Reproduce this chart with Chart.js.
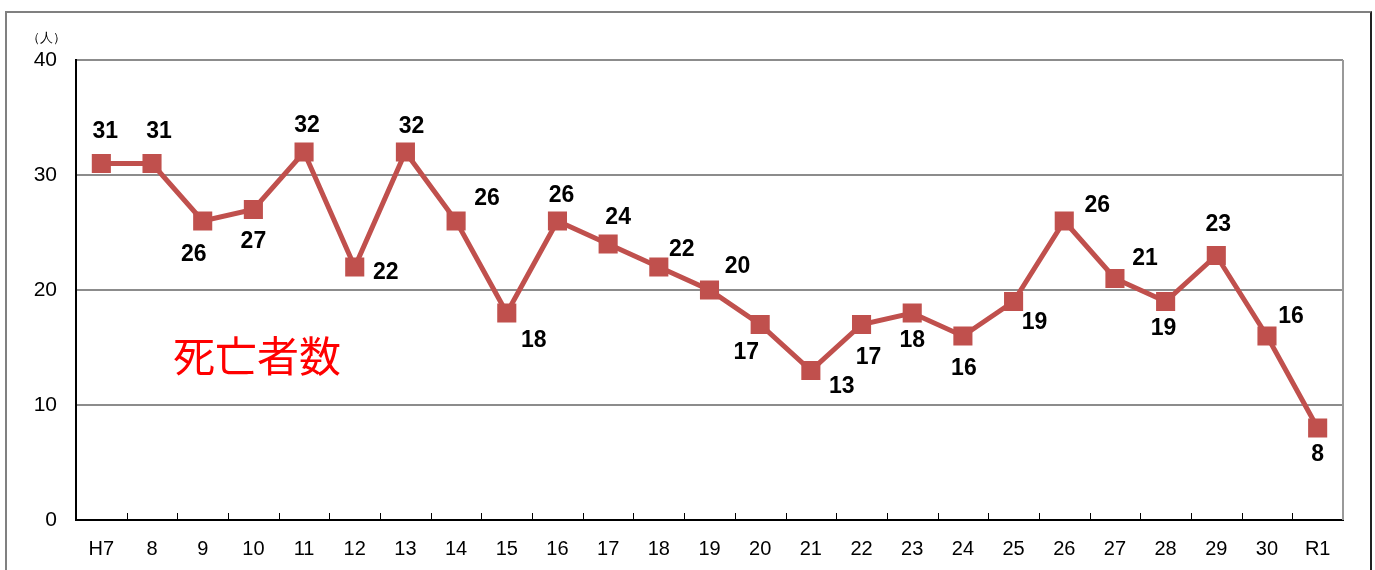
<!DOCTYPE html>
<html>
<head>
<meta charset="utf-8">
<script src="https://cdn.jsdelivr.net/npm/chart.js@4.4.0/dist/chart.umd.min.js"></script>
<style>
  html, body { margin: 0; padding: 0; background: #fff; }
  #wrap { position: relative; width: 1375px; height: 570px; overflow: hidden; }
  #frame {
    position: absolute; left: 5px; top: 11px; width: 1363px; height: 600px;
    border-left: 2px solid #808080; border-top: 2px solid #808080; border-right: 2px solid #222;
  }
  canvas { position: absolute; left: 0; top: 0; }
</style>
</head>
<body>
<div id="wrap">
  <div id="frame"></div>
  <canvas id="chart" width="1375" height="570"></canvas>
</div>
<script>
const years = ["H7", "8", "9", "10", "11", "12", "13", "14", "15", "16", "17", "18", "19",
  "20", "21", "22", "23", "24", "25", "26", "27", "28", "29", "30", "R1"];
const deaths = [31, 31, 26, 27, 32, 22, 32, 26, 18, 26, 24, 22, 20, 17, 13, 17, 18, 16, 19, 26, 21, 19, 23, 16, 8];
const yTicks = [0, 10, 20, 30, 40];
const unitLabel = "（人）";
const seriesLabel = "死亡者数";

// where each value label sits relative to its marker (px)
const labelOffsets = [
  [4, -32], [7, -32], [-9, 34], [0, 32], [3, -26], [31, 6], [6, -25], [31, -22],
  [27, 28], [4, -25], [10, -26], [23, -17], [28, -23], [-14, 28], [31, 16], [7, 33],
  [0, 28], [1, 33], [21, 21], [33, -15], [30, -20], [-2, 27], [2, -31], [24, -19], [0, 27]
];

const FONT = "'Liberation Sans', Arial, sans-serif";
const RED = "#c0504d";

const extras = {
  id: "extras",
  afterDraw(c) {
    const ctx = c.ctx;
    const ca = c.chartArea;
    const xs = c.scales.x;
    ctx.save();
    // right border of plot
    ctx.strokeStyle = "#999";
    ctx.lineWidth = 2;
    ctx.beginPath();
    ctx.moveTo(ca.right, ca.top);
    ctx.lineTo(ca.right, ca.bottom);
    ctx.stroke();
    // inward tick marks between categories
    ctx.strokeStyle = "#000";
    ctx.lineWidth = 1;
    ctx.beginPath();
    for (let i = 0; i < years.length - 1; i++) {
      const x = Math.round((xs.getPixelForValue(i) + xs.getPixelForValue(i + 1)) / 2) + 0.5;
      ctx.moveTo(x, ca.bottom);
      ctx.lineTo(x, ca.bottom - 7);
    }
    ctx.stroke();
    // value labels
    const meta = c.getDatasetMeta(0);
    ctx.fillStyle = "#000";
    ctx.font = "bold 23px " + FONT;
    ctx.textAlign = "center";
    ctx.textBaseline = "middle";
    meta.data.forEach((pt, i) => {
      const [dx, dy] = labelOffsets[i];
      ctx.fillText(String(deaths[i]), pt.x + dx, pt.y + dy);
    });
    // unit
    ctx.font = "13px " + FONT;
    ctx.fillText(unitLabel, 46, 38);
    // series name
    ctx.fillStyle = "#ff0000";
    ctx.font = "42px 'Noto Sans CJK JP', sans-serif";
    ctx.textAlign = "left";
    ctx.fillText(seriesLabel, ca.left + 97, 356);
    ctx.restore();
  },
};

new Chart(document.getElementById("chart"), {
  type: "line",
  data: {
    labels: years,
    datasets: [{
      label: seriesLabel,
      data: deaths,
      borderColor: RED,
      borderWidth: 5,
      backgroundColor: RED,
      pointStyle: "rect",
      pointRadius: 13.5,
      pointBackgroundColor: RED,
      pointBorderWidth: 0,
      tension: 0,
    }],
  },
  options: {
    responsive: false,
    animation: false,
    devicePixelRatio: 1,
    layout: { padding: { left: 0, top: 60, right: 32, bottom: 0 } },
    plugins: { legend: { display: false }, tooltip: { enabled: false } },
    scales: {
      x: {
        offset: true,
        grid: { display: false, drawTicks: false },
        border: { color: "#000", width: 2 },
        ticks: { color: "#000", font: { family: FONT, size: 20 }, padding: 17, maxRotation: 0, autoSkip: false },
        afterFit(s) { s.height = 50; },
      },
      y: {
        min: 0,
        max: 40,
        afterBuildTicks(s) { s.ticks = yTicks.map((v) => ({ value: v })); },
        grid: {
          drawTicks: false,
          color: (g) => (g.tick.value === 0 ? "rgba(0,0,0,0)" : "#8c8c8c"),
          lineWidth: 2,
        },
        border: { color: "#000", width: 2 },
        ticks: { color: "#000", font: { family: FONT, size: 21 }, padding: 19 },
        afterFit(s) { s.width = 76; },
      },
    },
  },
  plugins: [extras],
});
</script>
</body>
</html>
